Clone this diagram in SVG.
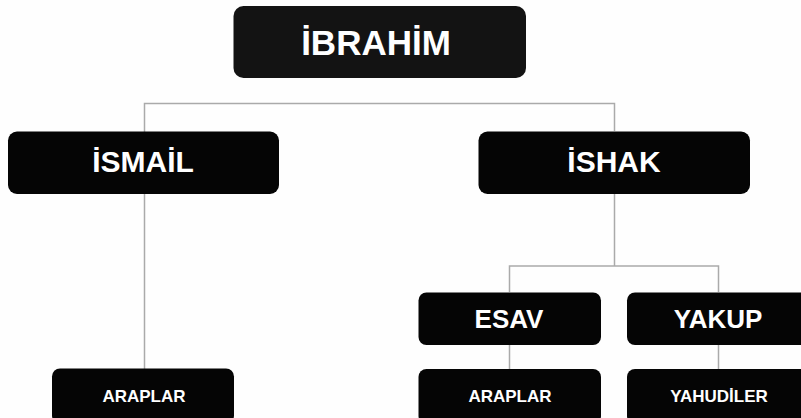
<svg xmlns="http://www.w3.org/2000/svg" width="801" height="418" viewBox="0 0 801 418">
<style>
.box{fill:#050505;}
.top{fill:#131313;}
.t{fill:#ffffff;font-family:"Liberation Sans",Arial,sans-serif;font-weight:bold;text-anchor:middle;}
.l1{font-size:35px;}
.l2{font-size:30px;}
.l3{font-size:26px;}
.l4{font-size:17px;}
.c{fill:none;stroke:#aaaaaa;stroke-width:1.5;}
</style>
<rect width="801" height="418" fill="#fefefe"/>
<g id="connectors">
<path class="c" d="M144.5,194 V103.5 H614.5 V131"/>
<path class="c" d="M144.5,194 V369"/>
<path class="c" d="M614.5,194 V266 M509.5,292 V266 H718.5 V292"/>
<path class="c" d="M509.5,345 V369"/>
<path class="c" d="M718.5,345 V369"/>
</g>
<g id="ibrahim">
<rect class="box top" x="233.5" y="6" width="292.5" height="72" rx="10"/>
<text class="t l1" x="376" y="55">İBRAHİM</text>
</g>
<g id="ismail">
<rect class="box" x="8" y="131.5" width="271" height="62.5" rx="9"/>
<text class="t l2" x="143" y="172">İSMAİL</text>
</g>
<g id="ishak">
<rect class="box" x="478.5" y="131.5" width="271.5" height="62.5" rx="9"/>
<text class="t l2" x="614" y="172">İSHAK</text>
</g>
<g id="esav">
<rect class="box" x="418.5" y="292.5" width="182.5" height="52.5" rx="8"/>
<text class="t l3" x="509" y="328">ESAV</text>
</g>
<g id="yakup">
<rect class="box" x="627" y="292.5" width="183" height="52.5" rx="8"/>
<text class="t l3" x="718" y="328">YAKUP</text>
</g>
<g id="araplar1">
<rect class="box" x="52" y="368.5" width="182" height="55" rx="8"/>
<text class="t l4" x="144" y="402">ARAPLAR</text>
</g>
<g id="araplar2">
<rect class="box" x="418.5" y="369" width="182.5" height="55" rx="8"/>
<text class="t l4" x="510" y="402">ARAPLAR</text>
</g>
<g id="yahudiler">
<rect class="box" x="627" y="369" width="183" height="55" rx="8"/>
<text class="t l4" x="719" y="402">YAHUDİLER</text>
</g>
</svg>
